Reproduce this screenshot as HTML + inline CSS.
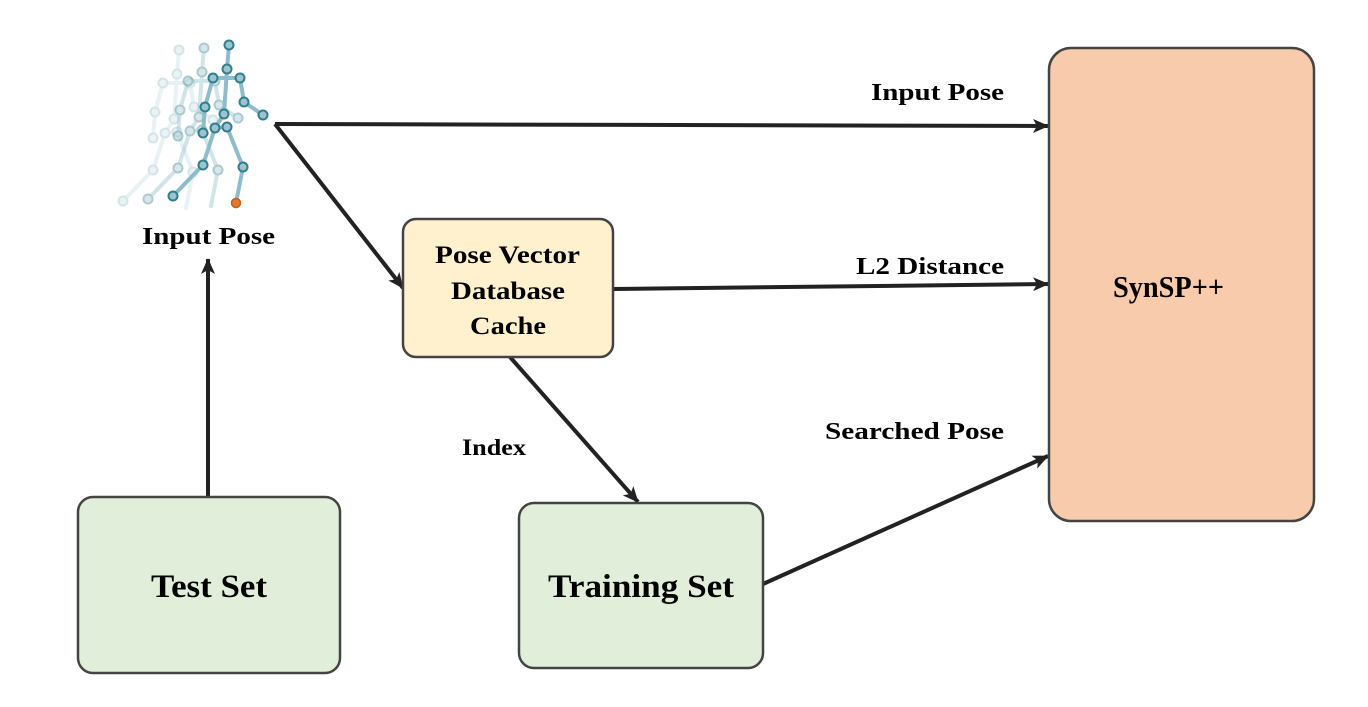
<!DOCTYPE html>
<html><head><style>body{margin:0;background:#fff}svg{display:block}</style></head><body>
<svg width="1368" height="707" viewBox="0 0 1368 707" xmlns="http://www.w3.org/2000/svg" font-family="Liberation Serif, serif" font-weight="bold">
<defs>
<marker id="a" markerWidth="16" markerHeight="14" refX="15" refY="7" orient="auto" markerUnits="userSpaceOnUse" viewBox="0 0 16 14"><path d="M0,0 L16,7 L0,14 L4,7 z" fill="#222"/></marker>
<g id="sk">
<g stroke="#8fbccb" stroke-width="4" fill="none" stroke-linecap="round">
<path d="M229,45 L227,69 L224,114 M213,78 L240,78 M240,78 L244,102 L263,115 M213,78 L205,107 L203,133 M215,128 L227,127 M215,128 L203,165 L173,196 M227,127 L243,167 L236,203 M224,114 L215,128"/>
</g>
<g fill="#9cc3cf" stroke="#2f7f8c" stroke-width="2">
<circle cx="229" cy="45" r="4.5"/><circle cx="227" cy="69" r="4.5"/><circle cx="213" cy="78" r="4.5"/><circle cx="240" cy="78" r="4.5"/><circle cx="244" cy="102" r="4.5"/><circle cx="263" cy="115" r="4.5"/><circle cx="205" cy="107" r="4.5"/><circle cx="203" cy="133" r="4.5"/><circle cx="224" cy="114" r="4.5"/><circle cx="215" cy="128" r="4.5"/><circle cx="227" cy="127" r="4.5"/><circle cx="203" cy="165" r="4.5"/><circle cx="173" cy="196" r="4.5"/><circle cx="243" cy="167" r="4.5"/>
</g>
</g>
</defs>
<use href="#sk" transform="translate(-50,5)" opacity="0.2"/>
<use href="#sk" transform="translate(-25,3)" opacity="0.4"/>
<use href="#sk"/>
<circle cx="236" cy="203" r="4.5" fill="#e07a2e" stroke="#c0601a" stroke-width="1.5"/>
<text x="142" y="244" font-size="24" textLength="133" lengthAdjust="spacingAndGlyphs">Input Pose</text>
<g stroke="#222" stroke-width="4" fill="none" marker-end="url(#a)">
<line x1="275" y1="124" x2="1048" y2="126"/>
<line x1="275" y1="124" x2="403" y2="288"/>
<line x1="613" y1="289" x2="1048" y2="284"/>
<line x1="510" y1="357" x2="638" y2="502"/>
<line x1="763" y1="584" x2="1048" y2="456"/>
<line x1="208" y1="497" x2="208" y2="259"/>
</g>
<rect x="78" y="497" width="262" height="176" rx="15" fill="#e1eed9" stroke="#444" stroke-width="2.5"/>
<text x="151" y="597" font-size="33" textLength="116" lengthAdjust="spacingAndGlyphs">Test Set</text>
<rect x="519" y="503" width="244" height="165" rx="15" fill="#e1eed9" stroke="#444" stroke-width="2.5"/>
<text x="548" y="597" font-size="33" textLength="186" lengthAdjust="spacingAndGlyphs">Training Set</text>
<rect x="403" y="219" width="210" height="138" rx="13" fill="#fff1ce" stroke="#444" stroke-width="2.5"/>
<text x="435" y="263" font-size="25" textLength="145" lengthAdjust="spacingAndGlyphs">Pose Vector</text>
<text x="451" y="299" font-size="25" textLength="114" lengthAdjust="spacingAndGlyphs">Database</text>
<text x="470" y="334" font-size="25" textLength="76" lengthAdjust="spacingAndGlyphs">Cache</text>
<rect x="1049" y="48" width="265" height="473" rx="22" fill="#f7cbab" stroke="#444" stroke-width="2.5"/>
<text x="1113" y="297" font-size="31" textLength="111" lengthAdjust="spacingAndGlyphs">SynSP++</text>
<text x="871" y="100" font-size="24" textLength="133" lengthAdjust="spacingAndGlyphs">Input Pose</text>
<text x="856" y="274" font-size="24" textLength="148" lengthAdjust="spacingAndGlyphs">L2 Distance</text>
<text x="825" y="439" font-size="24" textLength="179" lengthAdjust="spacingAndGlyphs">Searched Pose</text>
<text x="462" y="455" font-size="23" textLength="64" lengthAdjust="spacingAndGlyphs">Index</text>
</svg>
</body></html>
